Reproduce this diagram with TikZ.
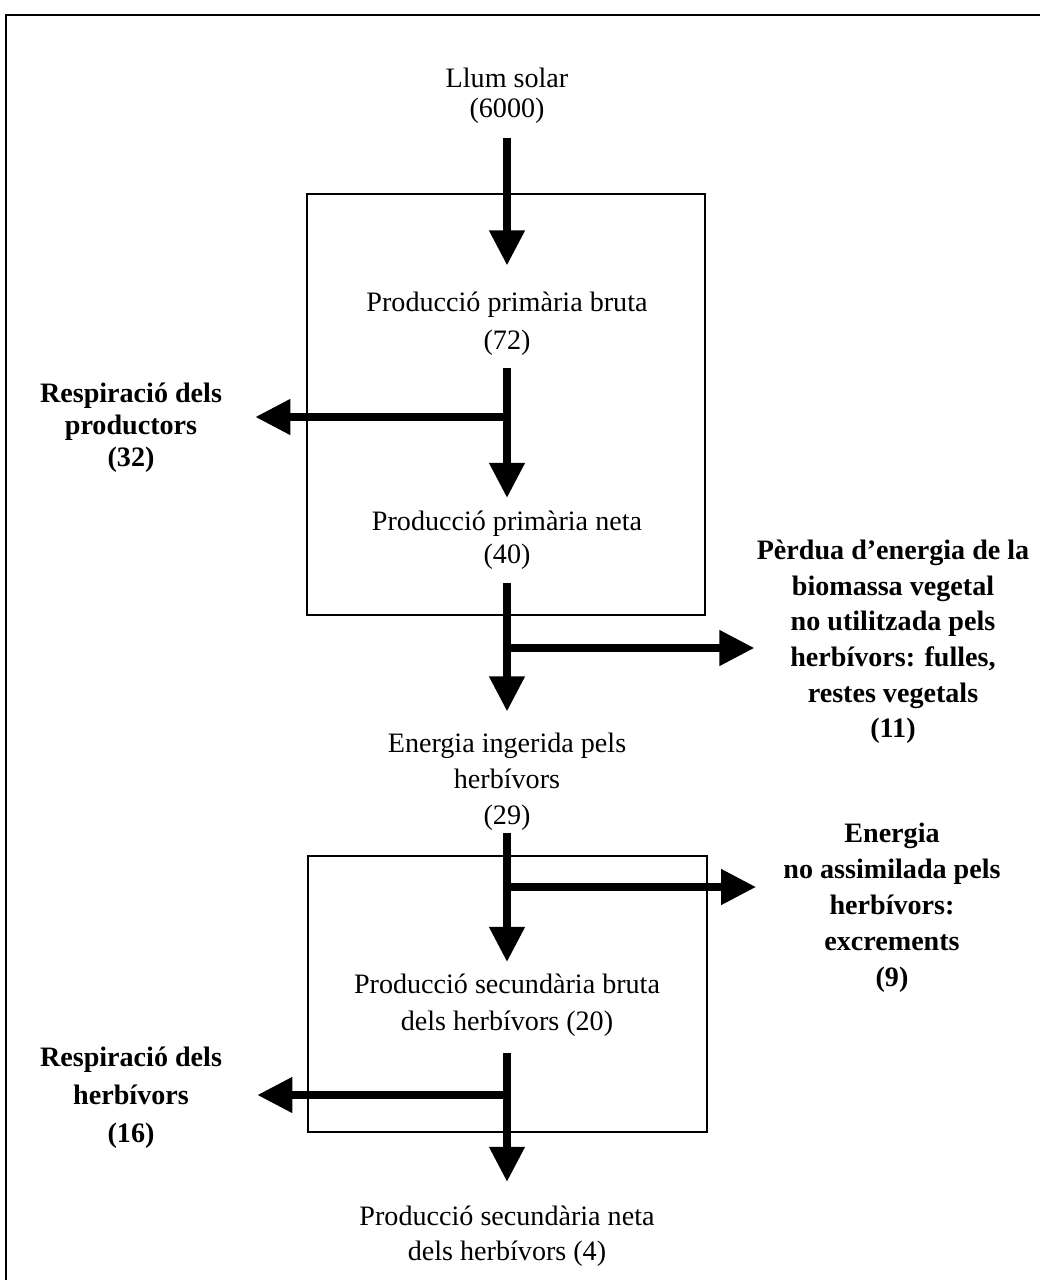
\documentclass[tikz,border=0pt]{standalone}
\usepackage{fontspec}
\setmainfont{Liberation Serif}
\usetikzlibrary{arrows.meta}
\begin{document}
\begin{tikzpicture}[x=0.02cm,y=-0.02cm,
  lbl/.style={align=center,inner sep=0pt},
  blbl/.style={align=center,inner sep=0pt},
  flow/.style={line width=0.15cm,-{Triangle[length=0.7cm,width=0.68cm]}},
  boxline/.style={line width=1.1pt},
  frameline/.style={line width=1.2pt}]
\useasboundingbox (0,0) rectangle (1040,1280);
% outer frame (right and bottom edges lie outside)
\draw[frameline] (6,1290) -- (6,15) -- (1050,15);
% boxes
\draw[boxline] (307,194) rectangle (705,615);
\draw[boxline] (308,856) rectangle (707,1132);
% texts
\node[lbl,font=\fontsize{16}{17.1}\selectfont] (llum) at (507,96) {Llum solar\\(6000)};
\node[lbl,font=\fontsize{16}{21.6}\selectfont] (ppb) at (507,324) {Producció primària bruta\\(72)};
\node[lbl,font=\fontsize{16}{18.8}\selectfont] (ppn) at (507,540) {Producció primària neta\\(40)};
\node[lbl,font=\fontsize{16}{20.5}\selectfont] (ing) at (507,782) {Energia ingerida pels\\herbívors\\(29)};
\node[lbl,font=\fontsize{16}{21}\selectfont] (psb) at (507,1005) {Producció secundària bruta\\dels herbívors (20)};
\node[lbl,font=\fontsize{16}{20}\selectfont] (psn) at (507,1236) {Producció secundària neta\\dels herbívors (4)};
\node[blbl,font=\fontsize{16}{18.2}\selectfont\bfseries] (resp1) at (131,428) {Respiració dels\\productors\\(32)};
\node[blbl,font=\fontsize{16}{20.3}\selectfont\bfseries] (perd) at (893,642) {Pèrdua d’energia de la\\biomassa vegetal\\no utilitzada pels\\herbívors: fulles,\\restes vegetals\\(11)};
\node[blbl,font=\fontsize{16}{20.5}\selectfont\bfseries] (exc) at (892,908) {Energia\\no assimilada pels\\herbívors:\\excrements\\(9)};
\node[blbl,font=\fontsize{16}{21.6}\selectfont\bfseries] (resp2) at (131,1098) {Respiració dels\\herbívors\\(16)};
% junctions
\coordinate (j1) at (507,417);
\coordinate (j2) at (507,648);
\coordinate (j3) at (507,887);
\coordinate (j4) at (507,1095);
% main flow
\draw[flow,shorten <=0.28cm,shorten >=0.53cm] (llum) -- (ppb);
\draw[flow,shorten <=0.24cm,shorten >=0.25cm] (ppb) -- (ppn);
\draw[flow,shorten <=0.26cm,shorten >=0.43cm] (ppn) -- (ing);
\draw[flow,shorten <=0.04cm,shorten >=0.23cm] (ing) -- (psb);
\draw[flow,shorten <=0.32cm,shorten >=0.47cm] (psb) -- (psn);
% branches
\draw[flow,shorten >=0.66cm] (j1) -- (j1 -| resp1.east);
\draw[flow,shorten >=0.04cm] (j2) -- (j2 -| perd.west);
\draw[flow,shorten >=0.54cm] (j3) -- (j3 -| exc.west);
\draw[flow,shorten >=0.70cm] (j4) -- (j4 -| resp2.east);
\end{tikzpicture}
\end{document}
